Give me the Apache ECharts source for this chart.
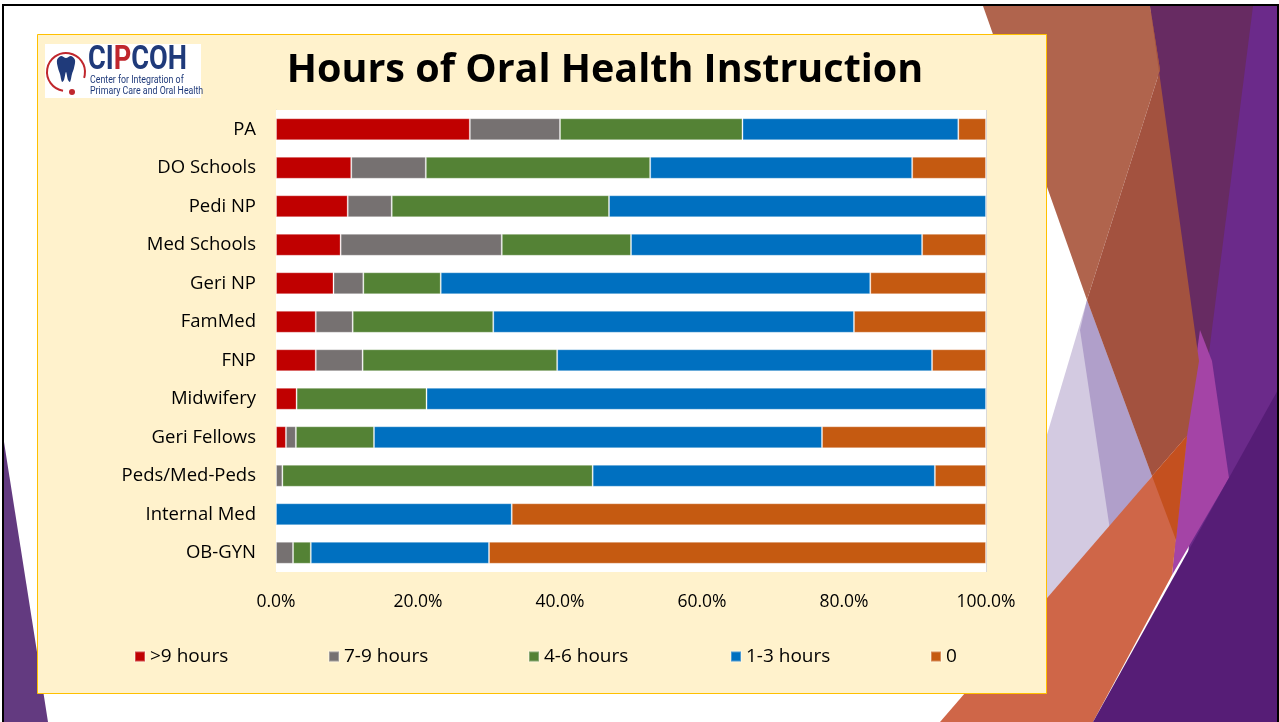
<!DOCTYPE html>
<html>
<head>
<meta charset="utf-8">
<title>Hours of Oral Health Instruction</title>
<script src="https://cdn.jsdelivr.net/npm/echarts@6/dist/echarts.min.js"></script>
<style>
  html, body { margin: 0; padding: 0; background: #fff; }
  #main { width: 1279px; height: 722px; }
</style>
</head>
<body>
<div id="main"></div>
<script>
// programs, top to bottom
const programs = ["PA", "DO Schools", "Pedi NP", "Med Schools", "Geri NP", "FamMed", "FNP",
  "Midwifery", "Geri Fellows", "Peds/Med-Peds", "Internal Med", "OB-GYN"];

// share of programs (%) per hours bucket
const over9 = [27.3, 10.6, 10.1, 9.1, 8.1, 5.6, 5.6, 2.9, 1.4, 0, 0, 0];
const h7to9 = [12.7, 10.5, 6.2, 22.7, 4.2, 5.2, 6.6, 0, 1.4, 0.9, 0, 2.4];
const h4to6 = [25.7, 31.6, 30.6, 18.2, 10.9, 19.8, 27.4, 18.3, 11.0, 43.7, 0, 2.5];
const h1to3 = [30.4, 36.9, 53.1, 41.0, 60.5, 50.8, 52.8, 78.8, 63.1, 48.2, 33.2, 25.1];
const none = [3.9, 10.4, 0, 9.0, 16.3, 18.6, 7.6, 0, 23.1, 7.2, 66.8, 70.0];

const xTicks = [0, 20, 40, 60, 80, 100];

const buckets = [
  { name: ">9 hours", data: over9, color: "#C00000", legendX: 134 },
  { name: "7-9 hours", data: h7to9, color: "#767171", legendX: 328 },
  { name: "4-6 hours", data: h4to6, color: "#548235", legendX: 528 },
  { name: "1-3 hours", data: h1to3, color: "#0070C0", legendX: 730 },
  { name: "0", data: none, color: "#C55A11", legendX: 930 }
];

const labelFont = "'Open Sans', sans-serif";

const myChart = echarts.init(document.getElementById("main"));

// slide decoration
const deco = [
  // left purple sliver
  { type: "polygon", shape: { points: [[4, 442], [48, 722], [4, 722]] }, style: { fill: "#633A80" } },
  // right side
  { type: "polygon", shape: { points: [[1150, 6], [1279, 6], [1279, 722], [1180, 722], [1195, 420]] }, style: { fill: "#6B2A8A" } },
  { type: "polygon", shape: { points: [[1150, 6], [1253, 6], [1203, 400]] }, style: { fill: "#672B62" } },
  { type: "polygon", shape: { points: [[1200, 330], [1212, 361], [1229, 478], [1172, 575], [1185, 436]] }, style: { fill: "#A444A6" } },
  { type: "polygon", shape: { points: [[1087, 300], [1160, 480], [1046, 630], [1046, 438]] }, style: { fill: "#D3CAE1" } },
  { type: "polygon", shape: { points: [[1087, 300], [1152, 476], [1110, 530], [1080, 330]] }, style: { fill: "#B09FCA" } },
  { type: "polygon", shape: { points: [[983, 6], [1150, 6], [1160, 70], [1087, 300]] }, style: { fill: "#B0644D" } },
  { type: "polygon", shape: { points: [[1160, 70], [1150, 6], [1199, 361], [1187, 436], [1152, 476], [1087, 300]] }, style: { fill: "#A3523F" } },
  { type: "polygon", shape: { points: [[940, 722], [1187, 436], [1172, 575], [1093, 722]] }, style: { fill: "#CF6648" } },
  { type: "polygon", shape: { points: [[1152, 476], [1187, 436], [1176, 540]] }, style: { fill: "#C4501F" } },
  { type: "polygon", shape: { points: [[1279, 388], [1279, 722], [1093, 722]] }, style: { fill: "#561D76" } },
  // slide frame
  { type: "rect", shape: { x: 3, y: 5, width: 1275, height: 730 }, style: { fill: null, stroke: "#000", lineWidth: 2 } },
  // cream panel
  { type: "rect", shape: { x: 37.5, y: 34.5, width: 1009, height: 659 }, style: { fill: "#FFF2CC", stroke: "#FFC000", lineWidth: 1 } },
  // logo
  { type: "rect", shape: { x: 45, y: 44, width: 156, height: 54 }, style: { fill: "#fff" } },
  { type: "arc", shape: { cx: 66, cy: 72, r: 19, startAngle: Math.PI * 0.55, endAngle: Math.PI * 2.1 }, style: { fill: null, stroke: "#C0272D", lineWidth: 2 } },
  { type: "circle", shape: { cx: 72, cy: 92, r: 3 }, style: { fill: "#C0272D" } },
  {
    type: "polygon",
    shape: {
      points: [[57, 60], [61, 56], [66, 58], [71, 56], [75, 60], [74, 68], [72, 74], [70, 82], [68, 80], [66, 72],
        [64, 80], [62, 82], [60, 74], [58, 68]],
      smooth: 0.3
    },
    style: { fill: "#1F3A7A" }
  },
  {
    type: "text", x: 88, y: 43, scaleX: 0.8,
    style: {
      text: "{n|CI}{p|P}{n|COH}",
      rich: {
        n: { fill: "#1F3A7A", font: "bold 34px Roboto" },
        p: { fill: "#C0272D", font: "bold 34px Roboto" }
      }
    }
  },
  { type: "text", x: 90, y: 75, scaleX: 0.8, style: { text: "Center for Integration of", fill: "#1F3A7A", font: "11px Roboto" } },
  { type: "text", x: 90, y: 86, scaleX: 0.8, style: { text: "Primary Care and Oral Health", fill: "#1F3A7A", font: "11px Roboto" } },
  // title
  {
    type: "text", x: 605, y: 71,
    style: {
      text: "Hours of Oral Health Instruction", fill: "#000",
      font: "bold 39.5px 'Open Sans'", textAlign: "center", textVerticalAlign: "middle"
    }
  }
];

const option = {
  animation: false,
  graphic: { elements: deco },
  grid: {
    left: 276, right: 293, top: 110, bottom: 150,
    show: true, backgroundColor: "#fff", borderWidth: 0, z: 2
  },
  legend: buckets.map(b => ({
    data: [b.name],
    left: b.legendX, top: 647, padding: 0,
    icon: "rect", itemWidth: 10, itemHeight: 10,
    textStyle: { fontFamily: labelFont, fontSize: 19, color: "#000" }
  })),
  xAxis: {
    type: "value", min: 0, max: 100, interval: 20,
    axisLine: { show: false }, axisTick: { show: false },
    splitLine: { lineStyle: { color: "#D9D9D9", width: 1 } },
    axisLabel: {
      margin: 21, fontFamily: labelFont, fontSize: 17.5, color: "#000",
      formatter: v => xTicks.includes(v) ? v.toFixed(1) + "%" : ""
    }
  },
  yAxis: {
    type: "category", data: programs, inverse: true,
    axisLine: { show: true, lineStyle: { color: "#D9D9D9" } },
    axisTick: { show: false },
    axisLabel: { margin: 20, fontFamily: labelFont, fontSize: 18.5, color: "#000" }
  },
  series: buckets.map(b => ({
    name: b.name, type: "bar", stack: "total", barWidth: 22, z: 3,
    itemStyle: { color: b.color, borderColor: "rgba(255,255,255,0.3)", borderWidth: 1 },
    data: b.data.map(v => (v === 0 ? null : v))
  }))
};

option && myChart.setOption(option);
</script>
</body>
</html>
